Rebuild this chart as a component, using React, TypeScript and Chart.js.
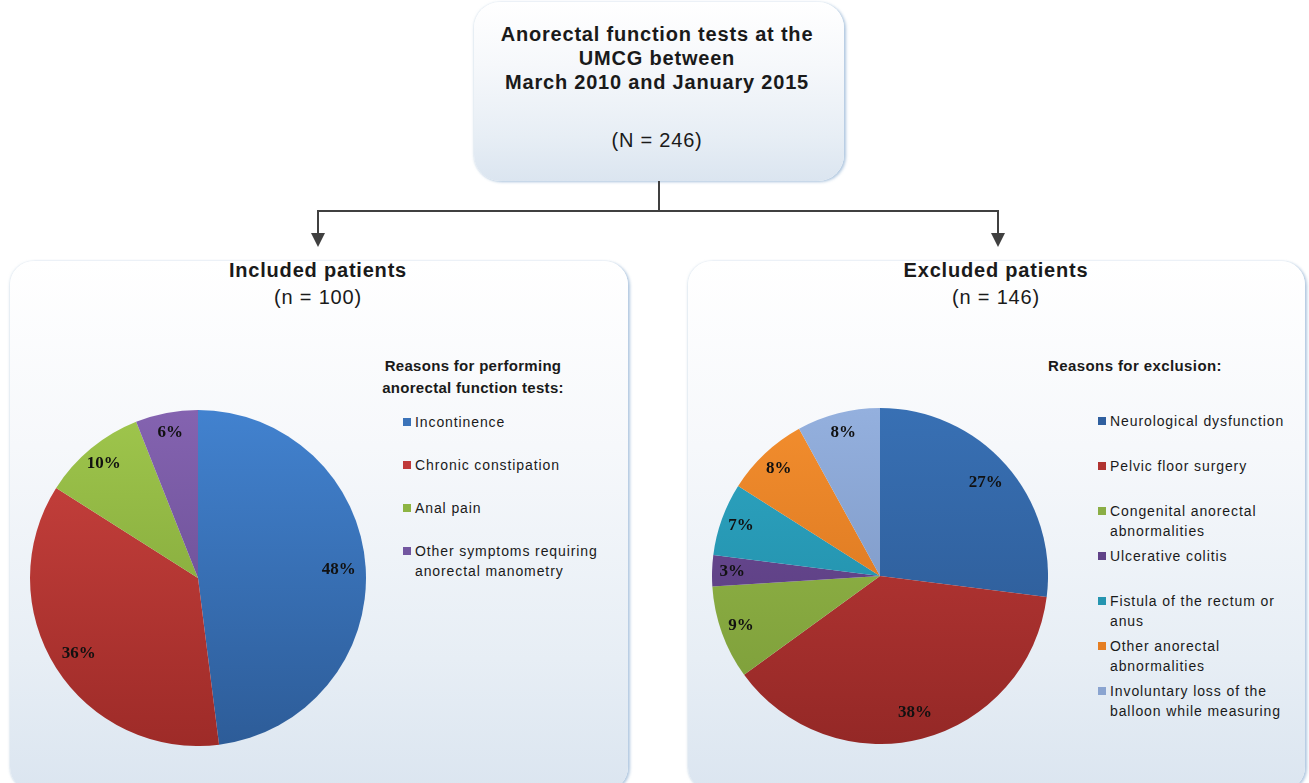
import React, { useEffect, useRef } from "react";
import { Chart, registerables } from "chart.js";

Chart.register(...registerables);

// ---------- data ----------
const includedLabels: string[][] = [
  ["Incontinence"],
  ["Chronic constipation"],
  ["Anal pain"],
  ["Other symptoms requiring", "anorectal manometry"],
];
const includedValues = [48, 36, 10, 6];
const includedTop = ["#4282cf", "#cb433f", "#9fc64c", "#8463b0"];
const includedBottom = ["#2d5c98", "#9e2b28", "#789b35", "#5f4689"];
const includedSwatch = ["#3b73b9", "#c0393a", "#8db443", "#7256a0"];

const excludedLabels: string[][] = [
  ["Neurological dysfunction"],
  ["Pelvic floor surgery"],
  ["Congenital anorectal", "abnormalities"],
  ["Ulcerative colitis"],
  ["Fistula of the rectum or", "anus"],
  ["Other anorectal", "abnormalities"],
  ["Involuntary loss of the", "balloon while measuring"],
];
const excludedValues = [27, 38, 9, 3, 7, 8, 8];
const excludedTop = ["#3870b4", "#c43c3a", "#98bd4b", "#704e99", "#2fa6c3", "#f38e2e", "#94b0de"];
const excludedBottom = ["#2a558d", "#942826", "#7a9a38", "#523878", "#1c86a0", "#cf6d1a", "#728dba"];
const excludedSwatch = ["#2f5f9f", "#b03331", "#8bae45", "#604288", "#2595b0", "#e57e22", "#8aa4d0"];

const FONT = '"Liberation Sans", Arial, sans-serif';

const labelPlugin = {
  id: "pctLabels",
  afterDatasetsDraw(chart: any) {
    const ctx = chart.ctx;
    const meta = chart.getDatasetMeta(0);
    const data = chart.data.datasets[0].data as number[];
    ctx.save();
    ctx.font = 'bold 17px "Liberation Serif", "Times New Roman", serif';
    ctx.fillStyle = "#111";
    ctx.textAlign = "center";
    ctx.textBaseline = "middle";
    meta.data.forEach((arc: any, i: number) => {
      const p = arc.getProps(["x", "y", "startAngle", "endAngle", "outerRadius"], true);
      const mid = (p.startAngle + p.endAngle) / 2;
      const f = data[i] > 20 ? 0.84 : 0.88;
      const x = p.x + Math.cos(mid) * p.outerRadius * f;
      const y = p.y + Math.sin(mid) * p.outerRadius * f;
      ctx.fillText(data[i] + "%", x, y);
    });
    ctx.restore();
  },
};

function PieChart(props: {
  labels: string[][];
  values: number[];
  top: string[];
  bottom: string[];
  left: number;
  topPos: number;
  size: number;
}) {
  const ref = useRef<HTMLCanvasElement | null>(null);
  useEffect(() => {
    if (!ref.current) return;
    const { top, bottom } = props;
    const chart = new Chart(ref.current, {
      type: "pie",
      data: {
        labels: props.labels.map((l) => l.join(" ")),
        datasets: [
          {
            data: props.values,
            borderWidth: 0,
            backgroundColor: (c: any) => {
              const ch = c.chart;
              const area = ch.chartArea;
              if (!area) return top[c.dataIndex];
              const g = ch.ctx.createLinearGradient(0, area.top, 0, area.bottom);
              g.addColorStop(0, top[c.dataIndex]);
              g.addColorStop(1, bottom[c.dataIndex]);
              return g;
            },
          },
        ],
      },
      options: {
        animation: false,
        responsive: false,
        maintainAspectRatio: false,
        layout: { padding: 0 },
        plugins: { legend: { display: false }, tooltip: { enabled: false } },
      },
      plugins: [labelPlugin],
    } as any);
    return () => chart.destroy();
  }, []);
  return (
    <canvas
      ref={ref}
      width={props.size}
      height={props.size}
      style={{
        position: "absolute",
        left: props.left,
        top: props.topPos,
        width: props.size,
        height: props.size,
      }}
    />
  );
}

function Text(props: {
  x: number;
  y: number;
  children: any;
  bold?: boolean;
  size?: number;
  ls?: number;
  align?: "center" | "left";
}) {
  const size = props.size ?? 20;
  const align = props.align ?? "center";
  return (
    <div
      style={{
        position: "absolute",
        left: align === "center" ? props.x - 300 : props.x,
        width: align === "center" ? 600 : 400,
        top: props.y - 12,
        height: 24,
        lineHeight: "24px",
        textAlign: align,
        fontFamily: FONT,
        fontWeight: props.bold ? 700 : 400,
        fontSize: size,
        letterSpacing: (props.ls ?? 0.8) + "px",
        color: "#1a1a1a",
        whiteSpace: "nowrap",
      }}
    >
      {props.children}
    </div>
  );
}

function Legend(props: {
  labels: string[][];
  colors: string[];
  x: number;
  y0: number;
  step: number;
}) {
  return (
    <>
      {props.labels.map((lines, i) => (
        <div key={i}>
          <div
            style={{
              position: "absolute",
              left: props.x,
              top: props.y0 + i * props.step - 4,
              width: 8,
              height: 8,
              background: props.colors[i],
            }}
          />
          {lines.map((ln, j) => (
            <div
              key={j}
              style={{
                position: "absolute",
                left: props.x + 12,
                top: props.y0 + i * props.step + j * 20 - 10,
                height: 20,
                lineHeight: "20px",
                fontFamily: FONT,
                fontSize: 14,
                letterSpacing: "0.9px",
                color: "#1a1a1a",
                whiteSpace: "nowrap",
              }}
            >
              {ln}
            </div>
          ))}
        </div>
      ))}
    </>
  );
}

const panelStyle = (left: number, top: number, width: number, height: number, radius: number): React.CSSProperties => ({
  position: "absolute",
  left,
  top,
  width,
  height,
  borderRadius: radius,
  background: "linear-gradient(to bottom, #ffffff 0%, #f6f8fb 35%, #e7eef5 75%, #dbe5f0 100%)",
  boxShadow: "2px 1px 3px rgba(150,180,212,0.75), -1px 0px 2px rgba(200,215,230,0.5)",
});

export default function App() {
  return (
    <div
      style={{
        position: "fixed",
        left: 0,
        top: 0,
        width: 1309,
        height: 783,
        overflow: "hidden",
        background: "#ffffff",
      }}
    >
      {/* top box */}
      <div style={panelStyle(474, 2, 370, 179, 26)} />
      <Text x={657} y={34} bold>Anorectal function tests at the</Text>
      <Text x={657} y={58} bold>UMCG between</Text>
      <Text x={657} y={82} bold>March 2010 and January 2015</Text>
      <Text x={657} y={140}>(N = 246)</Text>

      {/* connectors */}
      <svg
        width={1309}
        height={783}
        style={{ position: "absolute", left: 0, top: 0 }}
      >
        <path d="M659 181 L659 211 M318 211 L998 211 M318 210 L318 236 M998 210 L998 236" stroke="#404040" strokeWidth={2} fill="none" />
        <path d="M311 233 L325 233 L318 247 Z" fill="#404040" />
        <path d="M991 233 L1005 233 L998 247 Z" fill="#404040" />
      </svg>

      {/* panels */}
      <div style={panelStyle(10, 261, 618, 530, 24)} />
      <div style={panelStyle(688, 261, 617, 530, 24)} />

      <Text x={318} y={270} bold>Included patients</Text>
      <Text x={318} y={297}>(n = 100)</Text>
      <Text x={996} y={270} bold>Excluded patients</Text>
      <Text x={996} y={297}>(n = 146)</Text>

      <Text x={473} y={366} bold size={15} ls={0.3}>Reasons for performing</Text>
      <Text x={473} y={388} bold size={15} ls={0.3}>anorectal function tests:</Text>
      <Text x={1135} y={366} bold size={15} ls={0.4}>Reasons for exclusion:</Text>

      <Legend labels={includedLabels} colors={includedSwatch} x={403} y0={422} step={43} />
      <Legend labels={excludedLabels} colors={excludedSwatch} x={1098} y0={421} step={45} />

      <PieChart
        labels={includedLabels}
        values={includedValues}
        top={includedTop}
        bottom={includedBottom}
        left={30}
        topPos={410}
        size={336}
      />
      <PieChart
        labels={excludedLabels}
        values={excludedValues}
        top={excludedTop}
        bottom={excludedBottom}
        left={712}
        topPos={408}
        size={336}
      />
    </div>
  );
}
